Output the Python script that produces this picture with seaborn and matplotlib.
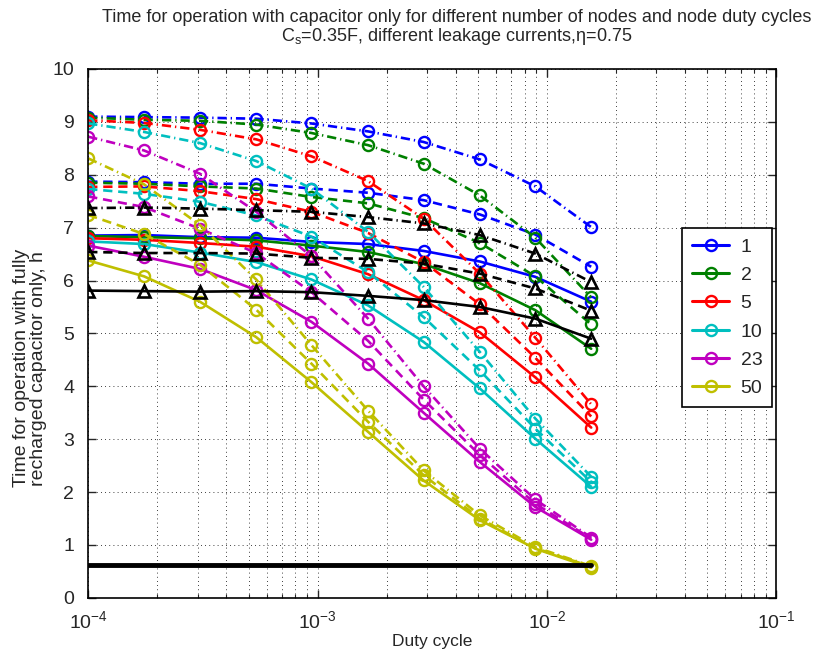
import numpy as np
import pandas as pd
import matplotlib
matplotlib.use('Agg')
import matplotlib.pyplot as plt
from matplotlib.lines import Line2D
import seaborn as sns

# duty cycle values (x)
duty = [1.0e-4, 1.75e-4, 3.07e-4, 5.4e-4, 9.4e-4, 1.66e-3, 2.9e-3, 5.1e-3, 8.9e-3, 1.56e-2]

# number of nodes (legend)
nodes = ['1', '2', '5', '10', '23', '50']

# time in hours, three leakage currents per node count: solid / dashed / dash-dot
n1_solid = [6.85, 6.86, 6.82, 6.81, 6.73, 6.69, 6.56, 6.36, 6.07, 5.60]
n1_dash = [7.87, 7.86, 7.83, 7.83, 7.74, 7.66, 7.52, 7.25, 6.87, 6.26]
n1_dashdot = [9.10, 9.09, 9.08, 9.06, 8.97, 8.82, 8.62, 8.29, 7.78, 7.01]

n2_solid = [6.84, 6.82, 6.80, 6.76, 6.66, 6.54, 6.31, 5.95, 5.44, 4.71]
n2_dash = [7.85, 7.83, 7.78, 7.74, 7.58, 7.46, 7.18, 6.71, 6.08, 5.17]
n2_dashdot = [9.08, 9.04, 9.02, 8.95, 8.79, 8.56, 8.21, 7.61, 6.81, 5.68]

n5_solid = [6.80, 6.77, 6.71, 6.64, 6.46, 6.12, 5.63, 5.02, 4.17, 3.22]
n5_dash = [7.77, 7.78, 7.69, 7.54, 7.30, 6.90, 6.35, 5.55, 4.54, 3.43]
n5_dashdot = [9.03, 8.98, 8.85, 8.67, 8.35, 7.88, 7.17, 6.13, 4.92, 3.66]

n10_solid = [6.74, 6.69, 6.53, 6.35, 6.02, 5.53, 4.84, 3.96, 3.01, 2.10]
n10_dash = [7.73, 7.64, 7.49, 7.23, 6.83, 6.16, 5.31, 4.30, 3.20, 2.19]
n10_dashdot = [8.97, 8.81, 8.60, 8.26, 7.74, 6.92, 5.88, 4.65, 3.39, 2.29]

n23_solid = [6.66, 6.45, 6.22, 5.82, 5.22, 4.43, 3.50, 2.57, 1.72, 1.10]
n23_dash = [7.59, 7.39, 6.98, 6.52, 5.78, 4.86, 3.75, 2.70, 1.78, 1.12]
n23_dashdot = [8.72, 8.46, 8.02, 7.30, 6.46, 5.28, 4.00, 2.82, 1.86, 1.14]

n50_solid = [6.38, 6.08, 5.60, 4.93, 4.08, 3.14, 2.22, 1.47, 0.93, 0.57]
n50_dash = [7.24, 6.88, 6.30, 5.45, 4.43, 3.33, 2.32, 1.50, 0.94, 0.59]
n50_dashdot = [8.31, 7.82, 7.05, 6.02, 4.78, 3.54, 2.41, 1.56, 0.96, 0.60]

# black curves with triangles
tri_solid = [5.81, 5.80, 5.79, 5.80, 5.78, 5.71, 5.63, 5.50, 5.28, 4.90]
tri_dash = [6.54, 6.52, 6.52, 6.51, 6.43, 6.41, 6.32, 6.13, 5.85, 5.43]
tri_dashdot = [7.37, 7.38, 7.36, 7.33, 7.30, 7.20, 7.08, 6.86, 6.51, 5.97]

# black floor line
floor = [0.63, 0.63, 0.63, 0.63, 0.63, 0.63, 0.63, 0.63, 0.63, 0.63]

colors = ['#0000ff', '#008000', '#ff0000', '#00bfbf', '#bf00bf', '#bfbf00']
series = {
    '1': (n1_solid, n1_dash, n1_dashdot),
    '2': (n2_solid, n2_dash, n2_dashdot),
    '5': (n5_solid, n5_dash, n5_dashdot),
    '10': (n10_solid, n10_dash, n10_dashdot),
    '23': (n23_solid, n23_dash, n23_dashdot),
    '50': (n50_solid, n50_dash, n50_dashdot),
}
styles = ['-', (0, (3.5, 2.2)), (0, (3.5, 1.5, 0.5, 1.5))]

sns.set_style('ticks')
plt.rcParams['font.family'] = ['Liberation Sans', 'DejaVu Sans']
plt.rcParams['mathtext.fontset'] = 'custom'
plt.rcParams['mathtext.rm'] = 'Liberation Sans'
plt.rcParams['mathtext.it'] = 'Liberation Sans:italic'
plt.rcParams['xtick.direction'] = 'in'
plt.rcParams['ytick.direction'] = 'in'

fig = plt.figure(figsize=(8.32, 6.57), dpi=100)
ax = fig.add_axes([0.106, 0.090, 0.827, 0.805])

lw = 1.9
for c, n in zip(colors, nodes):
    for ls, vals in zip(styles, series[n]):
        df = pd.DataFrame({'duty': duty, 'time': vals})
        sns.lineplot(data=df, x='duty', y='time', ax=ax, color=c, linestyle=ls,
                     lw=lw, marker='o', ms=8, mfc='none', mec=c, mew=1.7,
                     errorbar=None)

for ls, vals in zip(styles, (tri_solid, tri_dash, tri_dashdot)):
    df = pd.DataFrame({'duty': duty, 'time': vals})
    sns.lineplot(data=df, x='duty', y='time', ax=ax, color='k', linestyle=ls,
                 lw=lw, marker='^', ms=9, mfc='none', mec='k', mew=1.9,
                 errorbar=None)

df = pd.DataFrame({'duty': duty, 'time': floor})
sns.lineplot(data=df, x='duty', y='time', ax=ax, color='k', lw=3.5, errorbar=None)

ax.set_xscale('log')
ax.set_xlim(1e-4, 1e-1)
ax.set_ylim(0, 10)
ax.set_yticks(range(0, 11))
ax.tick_params(which='both', top=True, right=True, labelsize=14)
ax.tick_params(axis='x', which='major', pad=9)
ax.tick_params(axis='y', which='major', pad=10)
ax.tick_params(which='major', length=6, width=1)
ax.tick_params(which='minor', length=3, width=0.8)
ax.grid(True, which='major', ls=(0, (1, 4)), color='k', lw=0.6)
ax.xaxis.grid(True, which='minor', ls=(0, (1, 4)), color='k', lw=0.6)
for s in ax.spines.values():
    s.set_linewidth(1.2)
    s.set_color('k')

ax.set_xlabel('Duty cycle', fontsize=12.5, labelpad=1)
ax.set_ylabel('Time for operation with fully\nrecharged capacitor only, h', fontsize=14,
              linespacing=1.0)
ax.yaxis.set_label_coords(-0.06, 0.434)
ax.set_title('Time for operation with capacitor only for different number of nodes and node duty cycles\n'
             r'C$_{\mathrm{s}}$=0.35F, different leakage currents,η=0.75', fontsize=13,
             pad=20, linespacing=1.0, x=0.535)

handles = [Line2D([], [], color=c, lw=2.2, marker='o', ms=8, mfc='none', mec=c, mew=1.7)
           for c in colors]
leg = ax.legend(handles, nodes, loc='center right', bbox_to_anchor=(0.994, 0.53),
                borderaxespad=0, fontsize=14, frameon=True, fancybox=False, edgecolor='k',
                framealpha=1, handlelength=1.9, handletextpad=0.6, labelspacing=0.55,
                borderpad=0.5)
leg.get_frame().set_linewidth(1.2)

fig.savefig('out.png', dpi=100)
